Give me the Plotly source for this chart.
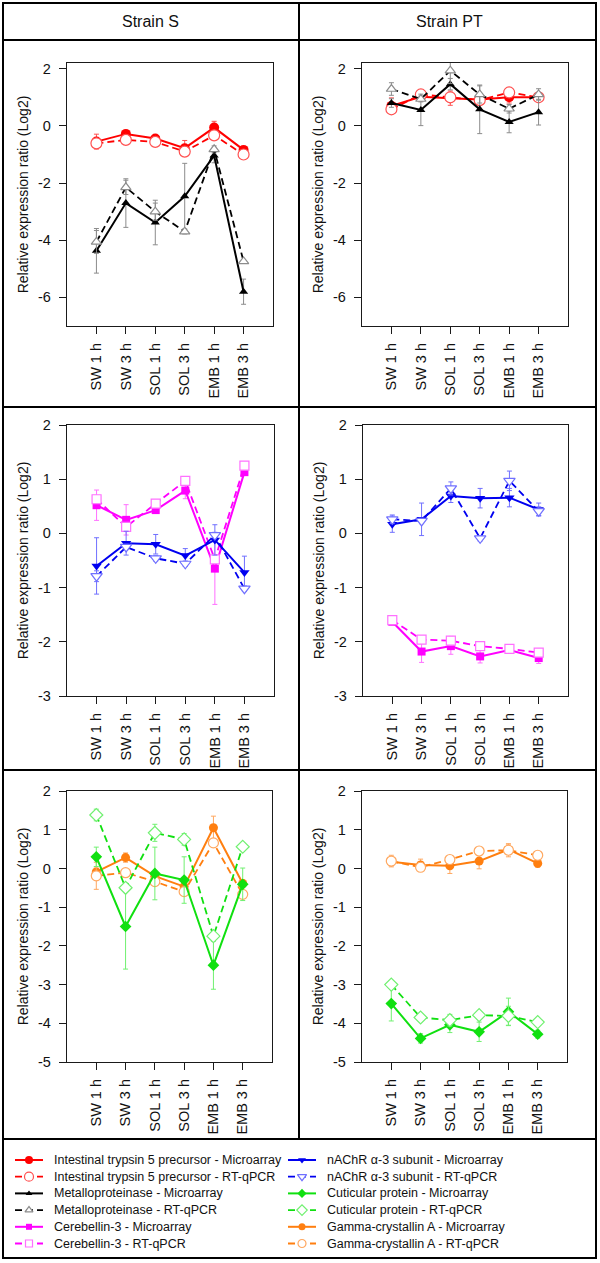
import plotly.graph_objects as go

W, H = 600, 1263

categories = ["SW 1 h", "SW 3 h", "SOL 1 h", "SOL 3 h", "EMB 1 h", "EMB 3 h"]

# ---- Row 1: Intestinal trypsin 5 precursor & Metalloproteinase ----
int_S_micro = [-0.55, -0.28, -0.44, -0.78, -0.06, -0.84]
int_S_micro_err = [0.26, 0.06, 0.06, 0.27, 0.22, 0.06]
int_S_rt = [-0.61, -0.49, -0.56, -0.90, -0.33, -1.00]
int_S_rt_err = [0.15, 0.04, 0.04, 0.08, 0.08, 0.04]
met_S_micro = [-4.37, -2.70, -3.38, -2.46, -1.04, -5.80]
met_S_micro_err = [0.78, 0.85, 0.78, 1.15, 0.25, 0.44]
met_S_rt = [-4.06, -2.15, -3.00, -3.70, -0.82, -4.74]
met_S_rt_err = [0.40, 0.25, 0.30, 0.08, 0.12, 0.04]

int_PT_micro = [0.70, 1.02, 0.97, 0.92, 1.00, 1.00]
int_PT_micro_err = [0.28, 0.08, 0.25, 0.08, 0.20, 0.08]
int_PT_rt = [0.58, 1.10, 1.00, 0.90, 1.17, 1.00]
int_PT_rt_err = [0.10, 0.05, 0.05, 0.05, 0.15, 0.05]
met_PT_micro = [0.80, 0.56, 1.46, 0.58, 0.14, 0.48]
met_PT_micro_err = [0.15, 0.55, 0.20, 0.85, 0.38, 0.45]
met_PT_rt = [1.29, 0.94, 1.93, 1.10, 0.60, 1.10]
met_PT_rt_err = [0.22, 0.10, 0.45, 0.30, 0.15, 0.20]

# ---- Row 2: Cerebellin-3 & nAChR alpha-3 subunit ----
cer_S_micro = [0.52, 0.25, 0.43, 0.79, -0.65, 1.13]
cer_S_micro_err = [0.28, 0.28, 0.05, 0.15, 0.66, 0.05]
cer_S_rt = [0.63, 0.12, 0.55, 0.97, -0.48, 1.25]
cer_S_rt_err = [0.05, 0.05, 0.05, 0.05, 0.05, 0.05]
nac_S_micro = [-0.60, -0.18, -0.20, -0.41, -0.12, -0.72]
nac_S_micro_err = [0.52, 0.22, 0.18, 0.13, 0.28, 0.30]
nac_S_rt = [-0.79, -0.25, -0.46, -0.56, -0.03, -1.02]
nac_S_rt_err = [0.10, 0.05, 0.05, 0.05, 0.05, 0.05]

cer_PT_micro = [-1.63, -2.18, -2.08, -2.27, -2.15, -2.30]
cer_PT_micro_err = [0.05, 0.20, 0.15, 0.12, 0.05, 0.10]
cer_PT_rt = [-1.60, -1.96, -1.98, -2.08, -2.13, -2.20]
cer_PT_rt_err = [0.03, 0.03, 0.08, 0.03, 0.03, 0.03]
nac_PT_micro = [0.17, 0.26, 0.69, 0.65, 0.66, 0.44]
nac_PT_micro_err = [0.15, 0.30, 0.12, 0.18, 0.17, 0.12]
nac_PT_rt = [0.26, 0.23, 0.83, -0.09, 0.97, 0.41]
nac_PT_rt_err = [0.08, 0.05, 0.12, 0.05, 0.18, 0.08]

# ---- Row 3: Cuticular protein & Gamma-crystallin A ----
cut_S_micro = [0.30, -1.50, -0.13, -0.30, -2.50, -0.41]
cut_S_micro_err = [0.25, 1.10, 0.68, 0.60, 0.62, 0.42]
cut_S_rt = [1.38, -0.50, 0.92, 0.75, -1.75, 0.56]
cut_S_rt_err = [0.15, 0.10, 0.22, 0.15, 0.10, 0.05]
gam_S_micro = [-0.09, 0.28, -0.20, -0.47, 1.05, -0.39]
gam_S_micro_err = [0.10, 0.12, 0.10, 0.10, 0.30, 0.10]
gam_S_rt = [-0.19, -0.11, -0.34, -0.60, 0.66, -0.67]
gam_S_rt_err = [0.35, 0.05, 0.05, 0.05, 0.10, 0.10]

cut_PT_micro = [-3.49, -4.39, -4.04, -4.22, -3.70, -4.28]
cut_PT_micro_err = [0.45, 0.12, 0.20, 0.25, 0.35, 0.10]
cut_PT_rt = [-3.00, -3.85, -3.92, -3.79, -3.81, -3.97]
cut_PT_rt_err = [0.05, 0.05, 0.15, 0.05, 0.25, 0.05]
gam_PT_micro = [0.17, 0.09, 0.07, 0.19, 0.49, 0.13]
gam_PT_micro_err = [0.10, 0.15, 0.20, 0.20, 0.12, 0.10]
gam_PT_rt = [0.19, 0.03, 0.23, 0.45, 0.47, 0.34]
gam_PT_rt_err = [0.15, 0.05, 0.05, 0.10, 0.17, 0.05]

strain_titles = ["Strain S", "Strain PT"]
y_title = "Relative expression ratio (Log2)"
methods = ["Microarray", "RT-qPCR"]

FONT = "Arial, Liberation Sans, sans-serif"

genes = {
    "int": dict(name="Intestinal trypsin 5 precursor", color="#FF0000", light="#FF5050",
                sym="circle", size=10),
    "met": dict(name="Metalloproteinase", color="#000000", light="#8C8C8C",
                sym="triangle-up", size=8),
    "cer": dict(name="Cerebellin-3", color="#FF00FF", light="#FF70FF",
                sym="square", size=8),
    "nac": dict(name="nAChR \u03b1-3 subunit", color="#0000F0", light="#7070FF",
                sym="triangle-down", size=9),
    "cut": dict(name="Cuticular protein", color="#10E010", light="#70F070",
                sym="diamond", size=9),
    "gam": dict(name="Gamma-crystallin A", color="#FF7F10", light="#FFA860",
                sym="circle", size=9),
}
legend_columns = [["int", "met", "cer"], ["nac", "cut", "gam"]]

panels = [
    [("int", int_S_micro, int_S_micro_err, int_S_rt, int_S_rt_err),
     ("met", met_S_micro, met_S_micro_err, met_S_rt, met_S_rt_err)],
    [("int", int_PT_micro, int_PT_micro_err, int_PT_rt, int_PT_rt_err),
     ("met", met_PT_micro, met_PT_micro_err, met_PT_rt, met_PT_rt_err)],
    [("cer", cer_S_micro, cer_S_micro_err, cer_S_rt, cer_S_rt_err),
     ("nac", nac_S_micro, nac_S_micro_err, nac_S_rt, nac_S_rt_err)],
    [("nac", nac_PT_micro, nac_PT_micro_err, nac_PT_rt, nac_PT_rt_err),
     ("cer", cer_PT_micro, cer_PT_micro_err, cer_PT_rt, cer_PT_rt_err)],
    [("gam", gam_S_micro, gam_S_micro_err, gam_S_rt, gam_S_rt_err),
     ("cut", cut_S_micro, cut_S_micro_err, cut_S_rt, cut_S_rt_err)],
    [("gam", gam_PT_micro, gam_PT_micro_err, gam_PT_rt, gam_PT_rt_err),
     ("cut", cut_PT_micro, cut_PT_micro_err, cut_PT_rt, cut_PT_rt_err)],
]

# pixel boxes of the plotting areas: (left, right, top, bottom), y range, tick values
boxes = [
    (67, 273, 63, 326, [-7, 2.2], [-6, -4, -2, 0, 2]),
    (362, 568, 63, 326, [-7, 2.2], [-6, -4, -2, 0, 2]),
    (67, 274, 425, 696, [-3, 2], [-3, -2, -1, 0, 1, 2]),
    (363, 568, 425, 696, [-3, 2], [-3, -2, -1, 0, 1, 2]),
    (67, 272, 791, 1062, [-5, 2], [-5, -4, -3, -2, -1, 0, 1, 2]),
    (362, 567, 791, 1062, [-5, 2], [-5, -4, -3, -2, -1, 0, 1, 2]),
]


def style(g, is_micro):
    return dict(
        line=dict(color=g["color"], width=2 if is_micro else 1.8,
                  dash="solid" if is_micro else "7px,4px"),
        marker=dict(symbol=g["sym"],
                    size=g["size"] if is_micro else g["size"] + 1,
                    color=g["color"] if is_micro else "white",
                    line=dict(color=g["color"] if is_micro else g["light"],
                              width=0 if is_micro else 1.2)),
    )


fig = go.Figure()

for i, panel in enumerate(panels):
    ax = "" if i == 0 else str(i + 1)
    for key, micro, micro_err, rt, rt_err in panel:
        g = genes[key]
        for kind, vals, errs in ((methods[0], micro, micro_err), (methods[1], rt, rt_err)):
            st = style(g, kind == methods[0])
            fig.add_trace(go.Scatter(
                x=categories, y=vals, mode="lines+markers",
                name=f"{g['name']} - {kind}", showlegend=False,
                line=st["line"], marker=st["marker"],
                error_y=dict(type="data", array=errs, color=g["light"],
                             thickness=1, width=2.5),
                xaxis="x" + ax, yaxis="y" + ax,
            ))

axis_common = dict(showline=True, linecolor="#1a1a1a", linewidth=1.4, mirror=True,
                   ticks="outside", tickcolor="#1a1a1a", tickwidth=1.3, ticklen=7,
                   showgrid=False, zeroline=False, automargin=False,
                   tickfont=dict(family=FONT, size=14.5, color="#111"))

layout = dict()
for i, box in enumerate(boxes):
    l, r, t, b, yr, tv = box
    ax = "" if i == 0 else str(i + 1)
    layout["xaxis" + ax] = dict(
        axis_common, domain=[l / W, r / W], anchor="y" + ax,
        type="category", range=[-1, 6], tickangle=-90,
        tickvals=categories, ticktext=categories, ticklabelstandoff=3,
    )
    layout["yaxis" + ax] = dict(
        axis_common, domain=[1 - b / H, 1 - t / H], anchor="x" + ax,
        range=yr, tickvals=tv, ticktext=[str(v) for v in tv],
        ticklabelstandoff=5,
        title=dict(text=y_title, font=dict(family=FONT, size=14, color="#111"), standoff=6),
    )

# ---- legend drawn in its own pixel-scaled axis (legend box area) ----
LEG_TOP, LEG_BOT = 1139, 1258
layout["xaxis7"] = dict(domain=[0, 1], range=[0, W], visible=False, fixedrange=True,
                        anchor="y7", automargin=False)
layout["yaxis7"] = dict(domain=[1 - LEG_BOT / H, 1 - LEG_TOP / H],
                        range=[LEG_BOT, LEG_TOP], visible=False, fixedrange=True,
                        anchor="x7", automargin=False)
col_x = [15, 288]          # left end of the legend sample line for each column
sample_len = 28
text_gap = 9
row_y0, row_dy = 1160, 16.7
annotations = []
for c, col in enumerate(legend_columns):
    for r_g, key in enumerate(col):
        g = genes[key]
        for m, kind in enumerate(methods):
            row = r_g * 2 + m
            y = row_y0 + row * row_dy
            x0 = col_x[c]
            x1 = x0 + sample_len
            st = style(g, m == 0)
            mk = dict(st["marker"])
            mk["size"] = mk["size"] - 2
            fig.add_trace(go.Scatter(x=[x0, x1], y=[y, y], mode="lines",
                                     line=st["line"], showlegend=False, hoverinfo="skip",
                                     xaxis="x7", yaxis="y7"))
            fig.add_trace(go.Scatter(x=[(x0 + x1) / 2], y=[y], mode="markers",
                                     marker=mk, showlegend=False, hoverinfo="skip",
                                     xaxis="x7", yaxis="y7"))
            annotations.append(dict(text=f"{g['name']} - {kind}", x=x1 + text_gap, y=y,
                                    xref="x7", yref="y7", showarrow=False,
                                    xanchor="left", yanchor="middle",
                                    font=dict(family=FONT, size=12.5, color="#111")))

# frame lines (table)
line = dict(color="black", width=2)
shapes = [
    dict(type="rect", xref="paper", yref="paper", x0=3 / W, x1=596 / W,
         y0=1 - 1258 / H, y1=1 - 3 / H, line=line),
    dict(type="line", xref="paper", yref="paper", x0=299 / W, x1=299 / W,
         y0=1 - 1139 / H, y1=1 - 3 / H, line=line),
]
for yy in (40, 407, 770, 1139):
    shapes.append(dict(type="line", xref="paper", yref="paper", x0=3 / W, x1=596 / W,
                       y0=1 - yy / H, y1=1 - yy / H, line=line))

for j, title in enumerate(strain_titles):
    annotations.append(dict(text=title, xref="paper", yref="paper",
                            x=(150 + 299 * j) / W, y=1 - 21 / H,
                            showarrow=False, xanchor="center", yanchor="middle",
                            font=dict(family=FONT, size=16, color="#111")))

fig.update_layout(
    **layout,
    width=W, height=H,
    margin=dict(l=0, r=0, t=0, b=0, pad=0, autoexpand=False),
    paper_bgcolor="white", plot_bgcolor="rgba(0,0,0,0)",
    shapes=shapes, annotations=annotations,
    showlegend=False,
    font=dict(family=FONT),
)

fig.write_html(
    "out.html",
    config={"displayModeBar": False},
    post_script="document.body.style.margin='0';document.body.style.padding='0';"
                "document.documentElement.style.overflow='hidden';",
)
